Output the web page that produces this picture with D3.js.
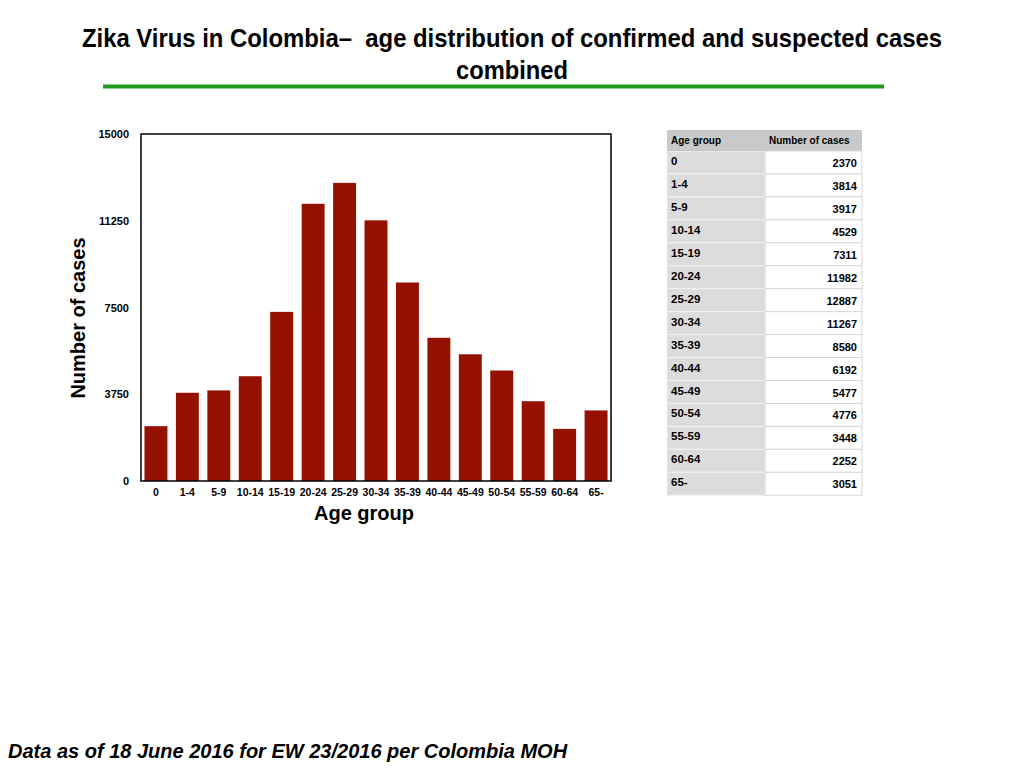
<!DOCTYPE html>
<html>
<head>
<meta charset="utf-8">
<script src="https://cdn.jsdelivr.net/npm/d3@7"></script>
<style>
  body { margin: 0; background: #fff; }
  svg { display: block; font-family: "Liberation Sans", Arial, Helvetica, sans-serif; }
</style>
</head>
<body>
<svg id="chart" width="1024" height="768"></svg>
<script>
(function() {

  var ageGroups = ["0", "1-4", "5-9", "10-14", "15-19", "20-24", "25-29", "30-34",
                   "35-39", "40-44", "45-49", "50-54", "55-59", "60-64", "65-"];
  var cases = [2370, 3814, 3917, 4529, 7311, 11982, 12887, 11267,
               8580, 6192, 5477, 4776, 3448, 2252, 3051];
  var yTicks = [0, 3750, 7500, 11250, 15000];

  var svg = d3.select("#chart");

  // title - condensed look made by squeezing each line to its width
  svg.append("text")
    .attr("x", 82).attr("y", 47)
    .attr("font-weight", "bold")
    .attr("font-size", 26)
    .attr("textLength", 860)
    .attr("lengthAdjust", "spacingAndGlyphs")
    .style("white-space", "pre")
    .text("Zika Virus in Colombia\u2013  age distribution of confirmed and suspected cases");

  svg.append("text")
    .attr("x", 512).attr("y", 79)
    .attr("text-anchor", "middle")
    .attr("font-weight", "bold")
    .attr("font-size", 26)
    .attr("textLength", 112)
    .attr("lengthAdjust", "spacingAndGlyphs")
    .text("combined");

  svg.append("line")
    .attr("x1", 103).attr("x2", 884)
    .attr("y1", 86.5).attr("y2", 86.5)
    .attr("stroke", "#1f9a1f")
    .attr("stroke-width", 4);

  // bar chart
  var plot = {left: 141, right: 611, top: 134, bottom: 481};

  var x = d3.scaleBand()
    .domain(ageGroups)
    .range([plot.left, plot.right])
    .paddingInner(0.27)
    .paddingOuter(0.11);

  var y = d3.scaleLinear()
    .domain([0, 15000])
    .range([plot.bottom, plot.top]);

  svg.append("g")
    .selectAll("rect")
    .data(cases)
    .enter()
    .append("rect")
    .attr("x", function(d, i) {return x(ageGroups[i])})
    .attr("y", function(d) {return y(d)})
    .attr("width", x.bandwidth())
    .attr("height", function(d) {return y(0) - y(d)})
    .attr("fill", "#941100");

  // frame around the plot area
  svg.append("rect")
    .attr("x", plot.left)
    .attr("y", plot.top)
    .attr("width", plot.right - plot.left)
    .attr("height", plot.bottom - plot.top)
    .attr("fill", "none")
    .attr("stroke", "#000")
    .attr("stroke-width", 1.5);

  var yAxis = svg.append("g")
    .attr("transform", "translate(" + plot.left + ",0)")
    .call(d3.axisLeft(y).tickValues(yTicks).tickSize(0).tickPadding(12).tickFormat(d3.format("d")));
  yAxis.select(".domain").remove();
  yAxis.selectAll("text")
    .attr("font-family", "'Liberation Sans', Arial, sans-serif")
    .attr("font-size", 11)
    .attr("font-weight", "bold")
    .attr("fill", "#000");

  var xAxis = svg.append("g")
    .attr("transform", "translate(0," + plot.bottom + ")")
    .call(d3.axisBottom(x).tickSize(0).tickPadding(8));
  xAxis.select(".domain").remove();
  xAxis.selectAll("text")
    .attr("font-family", "'Liberation Sans', Arial, sans-serif")
    .attr("font-size", 10.5)
    .attr("font-weight", "bold")
    .attr("fill", "#000");

  svg.append("text")
    .attr("x", (plot.left + plot.right) / 2 - 12)
    .attr("y", 520)
    .attr("text-anchor", "middle")
    .attr("font-size", 20)
    .attr("font-weight", "bold")
    .text("Age group");

  svg.append("text")
    .attr("transform", "translate(85," + 318 + ") rotate(-90)")
    .attr("text-anchor", "middle")
    .attr("font-size", 20)
    .attr("font-weight", "bold")
    .text("Number of cases");

  // data table
  var tbl = {x: 667, y: 130, col1: 98, col2: 97, header: 21, row: 22.95};
  var table = svg.append("g");

  table.append("rect")
    .attr("x", tbl.x).attr("y", tbl.y)
    .attr("width", tbl.col1 + tbl.col2).attr("height", tbl.header)
    .attr("fill", "#c9c9c9");
  table.append("line")
    .attr("x1", tbl.x).attr("x2", tbl.x + tbl.col1)
    .attr("y1", tbl.y + tbl.header).attr("y2", tbl.y + tbl.header)
    .attr("stroke", "#8a8a8a").attr("stroke-width", 1.5);
  table.append("text")
    .attr("x", tbl.x + 4).attr("y", tbl.y + 14)
    .attr("font-size", 10).attr("font-weight", "bold")
    .text("Age group");
  table.append("text")
    .attr("x", tbl.x + tbl.col1 + 4).attr("y", tbl.y + 14)
    .attr("font-size", 10).attr("font-weight", "bold")
    .text("Number of cases");

  var rows = table.selectAll("g.row")
    .data(cases)
    .enter()
    .append("g")
    .attr("class", "row")
    .attr("transform", function(d, i) {
      return "translate(" + tbl.x + "," + (tbl.y + tbl.header + i * tbl.row) + ")";
    });

  rows.append("rect")
    .attr("width", tbl.col1).attr("height", tbl.row)
    .attr("fill", "#dcdcdc")
    .attr("stroke", "#f2f2f2").attr("stroke-width", 1);
  rows.append("rect")
    .attr("x", tbl.col1)
    .attr("width", tbl.col2).attr("height", tbl.row)
    .attr("fill", "#fff")
    .attr("stroke", "#d8d8d8").attr("stroke-width", 1);
  rows.append("text")
    .attr("x", 4).attr("y", 14)
    .attr("font-size", 11.5).attr("font-weight", "bold")
    .text(function(d, i) {return ageGroups[i]});
  rows.append("text")
    .attr("x", tbl.col1 + tbl.col2 - 5).attr("y", 16)
    .attr("text-anchor", "end")
    .attr("font-size", 11).attr("font-weight", "bold")
    .text(function(d) {return d});

  // footnote
  svg.append("text")
    .attr("x", 8).attr("y", 758)
    .attr("font-size", 20)
    .attr("font-weight", "bold")
    .attr("font-style", "italic")
    .text("Data as of 18 June 2016 for EW 23/2016 per Colombia MOH");
})();
</script>
</body>
</html>
